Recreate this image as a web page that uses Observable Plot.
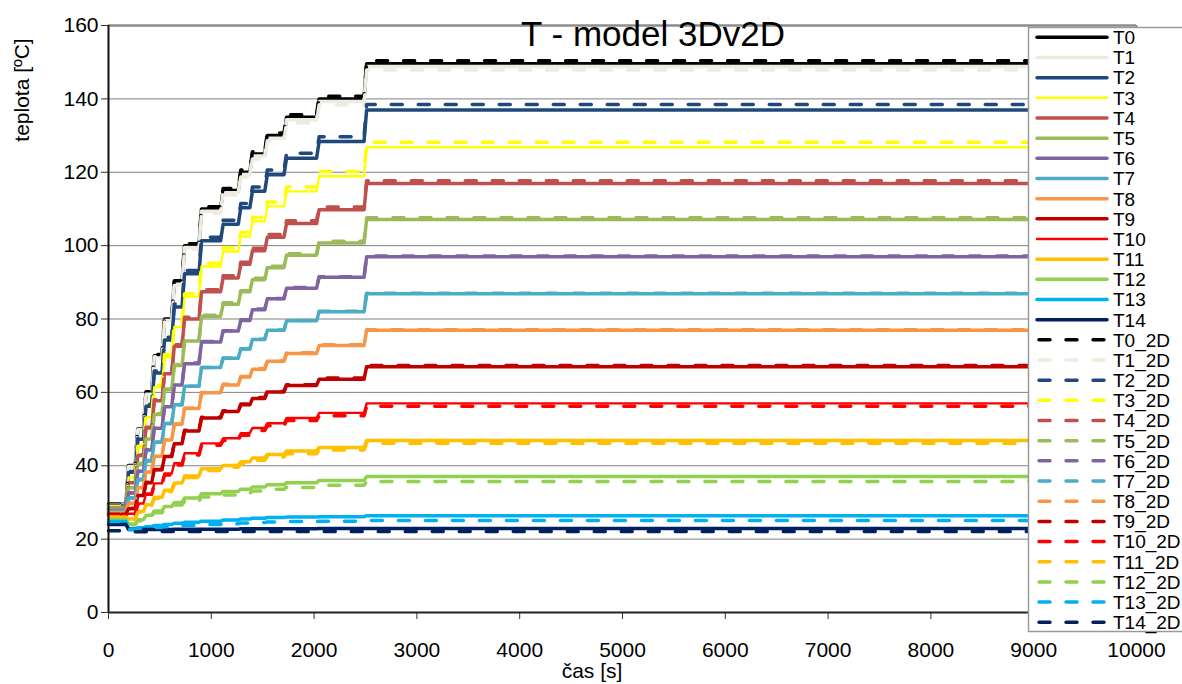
<!DOCTYPE html>
<html><head><meta charset="utf-8">
<script src="https://cdn.jsdelivr.net/npm/d3@7"></script>
<script src="https://cdn.jsdelivr.net/npm/@observablehq/plot@0.6"></script>
<style>
body{margin:0;background:#fff}
#chart{position:relative;width:1182px;height:684px;overflow:hidden}
</style>
</head><body><div id="chart"></div>
<script>
// ---- data ----
const stepTimes = [0, 170, 260, 340, 420, 520, 615, 715, 880, 1090, 1262, 1375, 1520, 1707, 2024, 2486];
const endTime = 9000;
const xTicks = [0, 1000, 2000, 3000, 4000, 5000, 6000, 7000, 8000, 9000, 10000];
const yTicks = [0, 20, 40, 60, 80, 100, 120, 140, 160];

const T0  = [29.5, 40, 50, 60, 70, 80, 90, 100, 110, 115, 120, 125, 130, 135, 140, 149.6];
const T1  = [29.3, 39.9, 49.8, 59.8, 69.7, 79.6, 89.6, 99.5, 109.4, 114.4, 119.4, 124.4, 129.3, 134.3, 139.3, 148.8];
const T2  = [29.0, 38.2, 47.2, 56.2, 65.3, 74.3, 83.3, 92.3, 101.3, 105.8, 110.3, 114.8, 119.3, 123.8, 128.4, 137.0];
const T3  = [28.8, 36.8, 45.0, 53.2, 61.4, 69.6, 77.8, 86.1, 94.3, 98.4, 102.5, 106.6, 110.7, 114.8, 118.9, 126.8];
const T4  = [28.5, 35.4, 42.8, 50.3, 57.7, 65.1, 72.6, 80.0, 87.4, 91.2, 94.9, 98.6, 102.3, 106.0, 109.8, 116.9];
const T5  = [28.2, 34.0, 40.7, 47.3, 54.0, 60.7, 67.3, 74.0, 80.7, 84.0, 87.4, 90.7, 94.0, 97.4, 100.7, 107.1];
const T6  = [27.9, 32.6, 38.5, 44.3, 50.2, 56.1, 62.0, 67.8, 73.7, 76.7, 79.6, 82.5, 85.5, 88.4, 91.4, 97.0];
const T7  = [27.6, 31.2, 36.2, 41.3, 46.4, 51.5, 56.6, 61.7, 66.8, 69.3, 71.8, 74.4, 76.9, 79.5, 82.0, 86.9];
const T8  = [27.2, 29.7, 34.0, 38.3, 42.6, 47.0, 51.3, 55.6, 59.9, 62.0, 64.2, 66.3, 68.5, 70.6, 72.8, 76.9];
const T9  = [26.8, 28.3, 31.9, 35.4, 38.9, 42.5, 46.0, 49.5, 53.0, 54.8, 56.6, 58.3, 60.1, 61.9, 63.6, 67.0];
const T10 = [26.4, 26.9, 29.7, 32.4, 35.2, 37.9, 40.7, 43.4, 46.1, 47.5, 48.9, 50.3, 51.6, 53.0, 54.4, 57.0];
const T11 = [26.0, 25.5, 27.5, 29.4, 31.4, 33.3, 35.3, 37.2, 39.2, 40.1, 41.1, 42.1, 43.1, 44.0, 45.0, 46.9];
const T12 = [25.4, 24.1, 25.3, 26.5, 27.7, 28.9, 30.0, 31.2, 32.4, 33.0, 33.6, 34.2, 34.8, 35.4, 36.0, 37.1];
const T13 = [24.8, 22.8, 23.1, 23.4, 23.7, 24.0, 24.3, 24.6, 24.9, 25.2, 25.5, 25.7, 25.9, 26.0, 26.1, 26.4];
const T14 = [24.0, 22.6, 22.6, 22.6, 22.6, 22.6, 22.7, 22.7, 22.7, 22.7, 22.8, 22.8, 22.8, 22.8, 22.9, 22.9];

const T0_2D  = [29.5, 40.1, 50.2, 60.2, 70.3, 80.4, 90.4, 100.5, 110.6, 115.6, 120.6, 125.6, 130.7, 135.7, 140.7, 150.4];
const T1_2D  = [29.2, 39.8, 49.6, 59.5, 69.4, 79.2, 89.1, 99.0, 108.8, 113.8, 118.7, 123.6, 128.6, 133.5, 138.4, 147.9];
const T2_2D  = [29.0, 38.4, 47.6, 56.7, 65.8, 75.0, 84.1, 93.2, 102.3, 106.9, 111.5, 116.0, 120.6, 125.2, 129.7, 138.5];
const T3_2D  = [28.8, 37.0, 45.3, 53.6, 62.0, 70.3, 78.6, 86.9, 95.2, 99.4, 103.6, 107.7, 111.9, 116.0, 120.2, 128.2];
const T4_2D  = [28.5, 35.5, 43.0, 50.5, 58.0, 65.5, 73.0, 80.5, 88.0, 91.8, 95.5, 99.3, 103.0, 106.8, 110.5, 117.7];
const T5_2D  = [28.2, 34.1, 40.8, 47.5, 54.2, 60.9, 67.6, 74.3, 81.0, 84.4, 87.7, 91.1, 94.4, 97.8, 101.2, 107.6];
const T6_2D  = [27.9, 32.6, 38.5, 44.4, 50.3, 56.2, 62.1, 68.0, 73.9, 76.8, 79.8, 82.7, 85.6, 88.6, 91.5, 97.2];
const T7_2D  = [27.6, 31.2, 36.3, 41.4, 46.5, 51.5, 56.6, 61.7, 66.8, 69.4, 71.9, 74.5, 77.0, 79.6, 82.1, 87.0];
const T8_2D  = [27.2, 29.8, 34.1, 38.4, 42.7, 47.0, 51.4, 55.7, 60.0, 62.2, 64.3, 66.5, 68.6, 70.8, 73.0, 77.1];
const T9_2D  = [26.8, 28.4, 31.9, 35.5, 39.0, 42.6, 46.1, 49.7, 53.2, 55.0, 56.8, 58.6, 60.3, 62.1, 63.9, 67.3];
const T10_2D = [26.4, 26.8, 29.5, 32.2, 34.9, 37.5, 40.2, 42.9, 45.6, 46.9, 48.3, 49.6, 50.9, 52.3, 53.6, 56.2];
const T11_2D = [26.0, 25.4, 27.3, 29.2, 31.1, 33.0, 35.0, 36.8, 38.7, 39.6, 40.5, 41.5, 42.4, 43.3, 44.3, 46.1];
const T12_2D = [25.4, 23.9, 25.0, 26.1, 27.2, 28.2, 29.3, 30.3, 31.5, 32.0, 32.5, 33.1, 33.6, 34.1, 34.7, 35.7];
const T13_2D = [24.8, 22.6, 22.8, 23.0, 23.2, 23.4, 23.6, 23.8, 24.0, 24.2, 24.4, 24.5, 24.7, 24.8, 24.9, 25.1];
const T14_2D = [22.3, 22.0, 22.0, 22.0, 22.1, 22.1, 22.1, 22.1, 22.1, 22.1, 22.1, 22.1, 22.1, 22.1, 22.1, 22.1];

const names3D = ["T0","T1","T2","T3","T4","T5","T6","T7","T8","T9","T10","T11","T12","T13","T14"];
const names2D = names3D.map(n => n + "_2D");
const values3D = [T0,T1,T2,T3,T4,T5,T6,T7,T8,T9,T10,T11,T12,T13,T14];
const values2D = [T0_2D,T1_2D,T2_2D,T3_2D,T4_2D,T5_2D,T6_2D,T7_2D,T8_2D,T9_2D,T10_2D,T11_2D,T12_2D,T13_2D,T14_2D];

// ---- styles ----
const palette = ["#000000","#EEECE1","#1F497D","#FFFF00","#C0504D","#9BBB59","#8064A2","#4BACC6","#F79646","#C00000","#FF0000","#FFC000","#92D050","#00B0F0","#002060"];
const thin = new Set([3, 10]);
const FONT = "'Liberation Sans', Arial, Helvetica, sans-serif";
const RAMP = 25;

function points(levels) {
  const pts = [{t: stepTimes[0], v: levels[0]}];
  for (let k = 1; k < stepTimes.length; k++) {
    pts.push({t: stepTimes[k], v: levels[k - 1]});
    pts.push({t: stepTimes[k] + RAMP, v: levels[k]});
  }
  pts.push({t: endTime, v: levels[levels.length - 1]});
  return pts;
}

const lineMarks = [];
values3D.forEach((vals, i) => {
  lineMarks.push(Plot.line(points(vals), {x: "t", y: "v", stroke: palette[i], strokeWidth: thin.has(i) ? 2.4 : 3.5, strokeLinejoin: "round"}));
});
values2D.forEach((vals, i) => {
  lineMarks.push(Plot.line(points(vals), {x: "t", y: "v", stroke: palette[i], strokeWidth: 3.5, strokeDasharray: "11,16", strokeLinecap: "round"}));
});

const plot = Plot.plot({
  width: 1182, height: 684,
  marginLeft: 108, marginRight: 46, marginTop: 25, marginBottom: 72,
  style: {fontFamily: FONT, fontSize: "21px", color: "#000", background: "#fff"},
  x: {domain: [0, 10000], label: null},
  y: {domain: [0, 160], label: null},
  marks: [
    Plot.gridY(yTicks, {stroke: "#808080", strokeOpacity: 1, strokeWidth: 1}),
    Plot.ruleY([160], {stroke: "#8c8c8c", strokeWidth: 2.5}),
    Plot.ruleX([10000], {stroke: "#8c8c8c", strokeWidth: 2}),
    ...lineMarks,
    Plot.axisX(xTicks, {tickSize: 7, tickPadding: 23, fontSize: 21, tickFormat: d => String(d), stroke: "#333", label: null}),
    Plot.axisY(yTicks, {tickSize: 7, tickPadding: 3, fontSize: 21, tickFormat: d => String(d), stroke: "#333", label: null}),
    Plot.ruleX([0], {stroke: "#111", strokeWidth: 2}),
    Plot.ruleY([0], {stroke: "#222", strokeWidth: 2})
  ]
});

document.getElementById("chart").appendChild(plot);

// ---- overlays: title, axis titles, legend ----
const svg = d3.select(plot);
svg.append("text").attr("x", 653).attr("y", 46).attr("text-anchor", "middle")
  .style("font-family", FONT).style("font-size", "35px").attr("fill", "#000").text("T - model 3Dv2D");
svg.append("text").attr("x", 592).attr("y", 678).attr("text-anchor", "middle")
  .style("font-family", FONT).style("font-size", "21px").attr("fill", "#000").text("čas [s]");
svg.append("text").attr("transform", "translate(29,90) rotate(-90)").attr("text-anchor", "middle")
  .style("font-family", FONT).style("font-size", "21px").attr("fill", "#000").text("teplota [ºC]");

const lg = svg.append("g").attr("text-anchor", "start");
lg.append("rect").attr("x", 1028.5).attr("y", 27.5).attr("width", 170).attr("height", 604)
  .attr("fill", "#fff").attr("stroke", "#9a9a9a").attr("stroke-width", 1.5);
const legendNames = names3D.concat(names2D);
legendNames.forEach((name, i) => {
  const y = 37.3 + i * 20.17;
  const ci = i % 15;
  const dashed = i >= 15;
  lg.append("line").attr("x1", dashed ? 1039 : 1037).attr("x2", dashed ? 1105 : 1107).attr("y1", y).attr("y2", y)
    .attr("stroke", palette[ci]).attr("stroke-width", (!dashed && thin.has(ci)) ? 2.5 : 3.5)
    .attr("stroke-linecap", "round")
    .attr("stroke-dasharray", dashed ? "11,16" : null);
  lg.append("text").attr("x", 1113).attr("y", y).attr("dy", "0.36em").attr("text-anchor", "start")
    .style("font-family", FONT).style("font-size", "19px").attr("fill", "#000").text(name);
});
</script>
</body></html>
